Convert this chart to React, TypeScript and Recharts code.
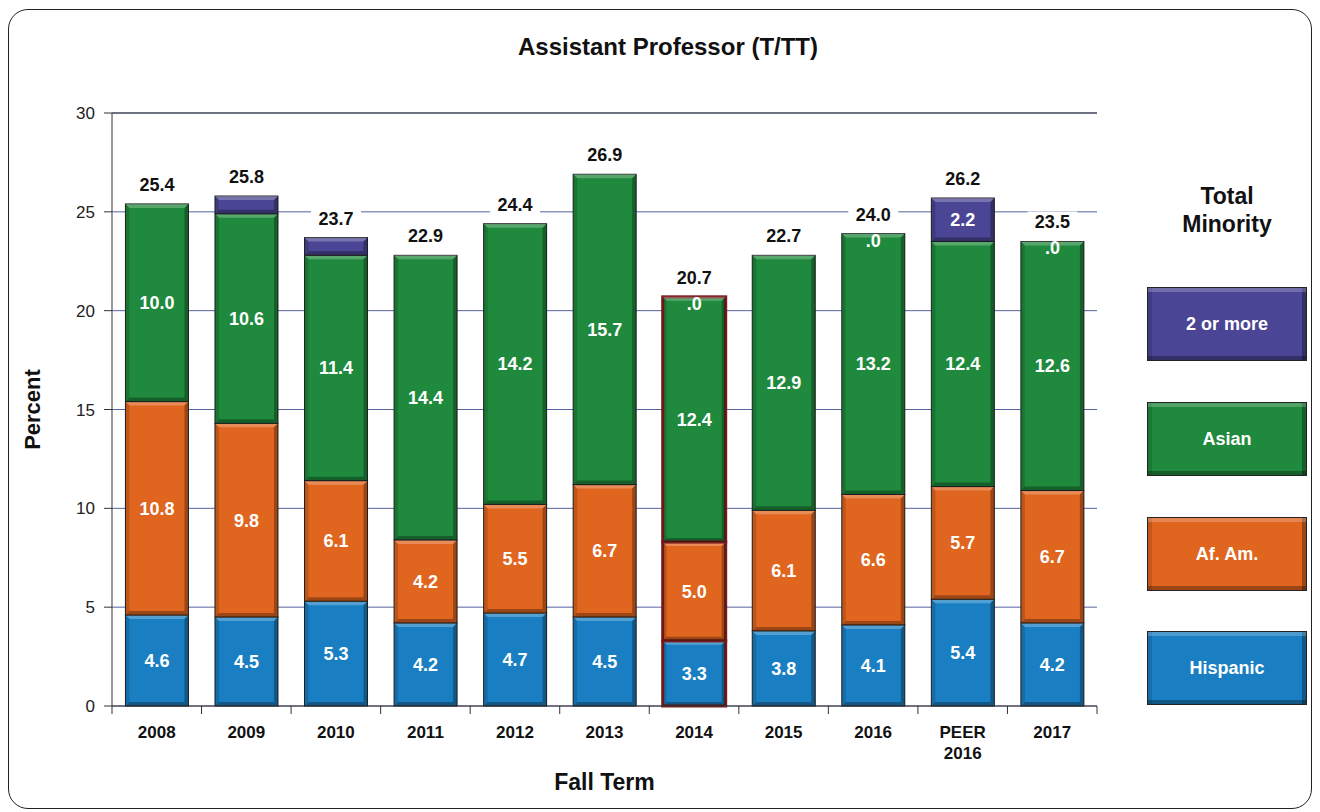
import React from 'react';
import { BarChart, Bar, XAxis, YAxis, CartesianGrid, LabelList, Cell, ReferenceLine, Label } from 'recharts';

const years = ['2008', '2009', '2010', '2011', '2012', '2013', '2014', '2015', '2016', 'PEER 2016', '2017'];
const hispanic = [4.6, 4.5, 5.3, 4.2, 4.7, 4.5, 3.3, 3.8, 4.1, 5.4, 4.2];
const afAm = [10.8, 9.8, 6.1, 4.2, 5.5, 6.7, 5.0, 6.1, 6.6, 5.7, 6.7];
const asian = [10.0, 10.6, 11.4, 14.4, 14.2, 15.7, 12.4, 12.9, 13.2, 12.4, 12.6];
const twoOrMore = [0, 0.9, 0.9, 0, 0, 0, 0, 0, 0, 2.2, 0];
const twoOrMoreLabels = ['', '', '', '', '', '', '.0', '', '.0', '2.2', '.0'];
const totals = ['25.4', '25.8', '23.7', '22.9', '24.4', '26.9', '20.7', '22.7', '24.0', '26.2', '23.5'];
const yTicks = [0, 5, 10, 15, 20, 25, 30];

const COLORS = {
  hispanic: '#1a7fc2',
  afAm: '#e0651f',
  asian: '#1f8a3d',
  two: '#4a4594',
};

const FONT = '"Liberation Sans", Arial, sans-serif';
const W = 1320;
const H = 812;
const M = { top: 113, right: 223, bottom: 12, left: 0 };
const Y_AXIS_W = 112;
const X_AXIS_H = 94;
const PLOT_BOTTOM = H - M.bottom - X_AXIS_H;
const BAND = (W - Y_AXIS_W - M.right) / years.length;

const data = years.map((year, i) => ({
  year,
  hispanic: hispanic[i],
  afAm: afAm[i],
  asian: asian[i],
  two: twoOrMore[i],
  twoLabel: twoOrMoreLabels[i],
  total: totals[i],
}));

// bar with a little bevel so it looks like the original's 3D blocks
const BevelBar = (props: any) => {
  const { x, y, width, height, fill, stroke, strokeWidth } = props;
  if (!height || height <= 0) return null;
  const b = Math.min(4, height / 3);
  return (
    <g>
      <rect x={x} y={y} width={width} height={height} fill={fill} stroke={stroke || '#222'} strokeWidth={strokeWidth || 1} />
      <polygon points={`${x},${y} ${x + width},${y} ${x + width - b},${y + b} ${x + b},${y + b}`} fill="#fff" opacity={0.25} />
      <polygon points={`${x},${y + height} ${x + width},${y + height} ${x + width - b},${y + height - b} ${x + b},${y + height - b}`} fill="#000" opacity={0.3} />
      <polygon points={`${x},${y} ${x + b},${y + b} ${x + b},${y + height - b} ${x},${y + height}`} fill="#000" opacity={0.15} />
      <polygon points={`${x + width},${y} ${x + width - b},${y + b} ${x + width - b},${y + height - b} ${x + width},${y + height}`} fill="#000" opacity={0.3} />
    </g>
  );
};

const XTick = (props: any) => {
  const { x, payload, index } = props;
  const lines = String(payload.value).split(' ');
  return (
    <g>
      <line x1={x - BAND / 2} x2={x - BAND / 2} y1={PLOT_BOTTOM} y2={PLOT_BOTTOM + 8} stroke="#333" />
      {index === years.length - 1 && (
        <line x1={x + BAND / 2} x2={x + BAND / 2} y1={PLOT_BOTTOM} y2={PLOT_BOTTOM + 8} stroke="#333" />
      )}
      <text x={x} y={PLOT_BOTTOM + 32} textAnchor="middle" fontFamily={FONT} fontWeight="bold" fontSize={17} fill="#111">
        {lines.map((l, i) => (
          <tspan key={i} x={x} dy={i === 0 ? 0 : 21}>{l}</tspan>
        ))}
      </text>
    </g>
  );
};

const TwoLabel = (props: any) => {
  const { x, y, width, height, value } = props;
  if (!value) return null;
  const cy = height > 5 ? y + height / 2 : y + 7;
  return (
    <text x={x + width / 2} y={cy} textAnchor="middle" dominantBaseline="central" fontFamily={FONT} fontWeight="bold" fontSize={18} fill="#fff">
      {value}
    </text>
  );
};

const TotalLabel = (props: any) => {
  const { x, y, width, value } = props;
  const cx = x + width / 2;
  const cy = y - 19;
  return (
    <g>
      <rect x={cx - 25} y={cy - 11} width={50} height={22} fill="#fff" />
      <text x={cx} y={cy} textAnchor="middle" dominantBaseline="central" fontFamily={FONT} fontWeight="bold" fontSize={18} fill="#111">
        {value}
      </text>
    </g>
  );
};

const segLabel = {
  position: 'center' as const,
  fill: '#fff',
  fontSize: 18,
  fontWeight: 'bold',
  fontFamily: FONT,
  formatter: (v: any) => Number(v).toFixed(1),
};

const legendItems = [
  { label: '2 or more', color: COLORS.two, top: 287 },
  { label: 'Asian', color: COLORS.asian, top: 402 },
  { label: 'Af. Am.', color: COLORS.afAm, top: 517 },
  { label: 'Hispanic', color: COLORS.hispanic, top: 631 },
];

const hl = (i: number) => (i === 6 ? { stroke: '#7a1c1c', strokeWidth: 3 } : {});

export default function App() {
  return (
    <div style={{ position: 'absolute', left: 0, top: 0, width: W, height: H, background: '#fff', fontFamily: FONT }}>
      <div style={{ position: 'absolute', left: 8, top: 9, width: 1302, height: 798, border: '1.5px solid #222', borderRadius: 20 }} />
      <div style={{ position: 'absolute', left: 0, width: 1336, top: 32, textAlign: 'center', fontWeight: 'bold', fontSize: 24, lineHeight: '30px', color: '#111' }}>
        Assistant Professor (T/TT)
      </div>

      <div style={{ position: 'absolute', left: 0, top: 0 }}>
        <BarChart width={W} height={H} data={data} margin={M} barCategoryGap="15%">
          <CartesianGrid vertical={false} stroke="#56639f" strokeWidth={1} />
          <ReferenceLine y={30} stroke="#333" />
          <XAxis dataKey="year" tickLine={false} axisLine={{ stroke: '#333' }} height={X_AXIS_H} tick={<XTick />} interval={0}>
            <Label value="Fall Term" position="insideBottom" offset={10} style={{ fontFamily: FONT, fontWeight: 'bold', fontSize: 23, fill: '#111' }} />
          </XAxis>
          <YAxis
            width={Y_AXIS_W}
            domain={[0, 30]}
            ticks={yTicks}
            tickSize={8}
            tickMargin={9}
            axisLine={{ stroke: '#333' }}
            tickLine={{ stroke: '#333' }}
            tick={{ fontFamily: FONT, fontSize: 17, fill: '#222' }}
          >
            <Label value="Percent" angle={-90} position="insideLeft" offset={32} style={{ fontFamily: FONT, fontWeight: 'bold', fontSize: 22, fill: '#111', textAnchor: 'middle' }} />
          </YAxis>
          <Bar dataKey="hispanic" stackId="a" fill={COLORS.hispanic} shape={<BevelBar />} isAnimationActive={false}>
            {data.map((_, i) => <Cell key={i} {...hl(i)} />)}
            <LabelList dataKey="hispanic" {...segLabel} />
          </Bar>
          <Bar dataKey="afAm" stackId="a" fill={COLORS.afAm} shape={<BevelBar />} isAnimationActive={false}>
            {data.map((_, i) => <Cell key={i} {...hl(i)} />)}
            <LabelList dataKey="afAm" {...segLabel} />
          </Bar>
          <Bar dataKey="asian" stackId="a" fill={COLORS.asian} shape={<BevelBar />} isAnimationActive={false}>
            {data.map((_, i) => <Cell key={i} {...hl(i)} />)}
            <LabelList dataKey="asian" {...segLabel} />
          </Bar>
          <Bar dataKey="two" stackId="a" fill={COLORS.two} shape={<BevelBar />} isAnimationActive={false}>
            <LabelList dataKey="twoLabel" content={<TwoLabel />} />
            <LabelList dataKey="total" content={<TotalLabel />} />
          </Bar>
        </BarChart>
      </div>

      <div style={{ position: 'absolute', left: 1147, width: 160, top: 182, textAlign: 'center', fontWeight: 'bold', fontSize: 23, lineHeight: '28px', color: '#111' }}>
        Total<br />Minority
      </div>
      {legendItems.map((it) => (
        <div
          key={it.label}
          style={{
            position: 'absolute',
            left: 1147,
            top: it.top,
            width: 160,
            height: 74,
            boxSizing: 'border-box',
            background: it.color,
            border: '1px solid #222',
            boxShadow: 'inset 0 4px 0 rgba(255,255,255,0.22), inset 0 -4px 0 rgba(0,0,0,0.3), inset 4px 0 0 rgba(0,0,0,0.12), inset -4px 0 0 rgba(0,0,0,0.3)',
            color: '#fff',
            fontWeight: 'bold',
            fontSize: 18,
            display: 'flex',
            alignItems: 'center',
            justifyContent: 'center',
          }}
        >
          {it.label}
        </div>
      ))}
    </div>
  );
}
